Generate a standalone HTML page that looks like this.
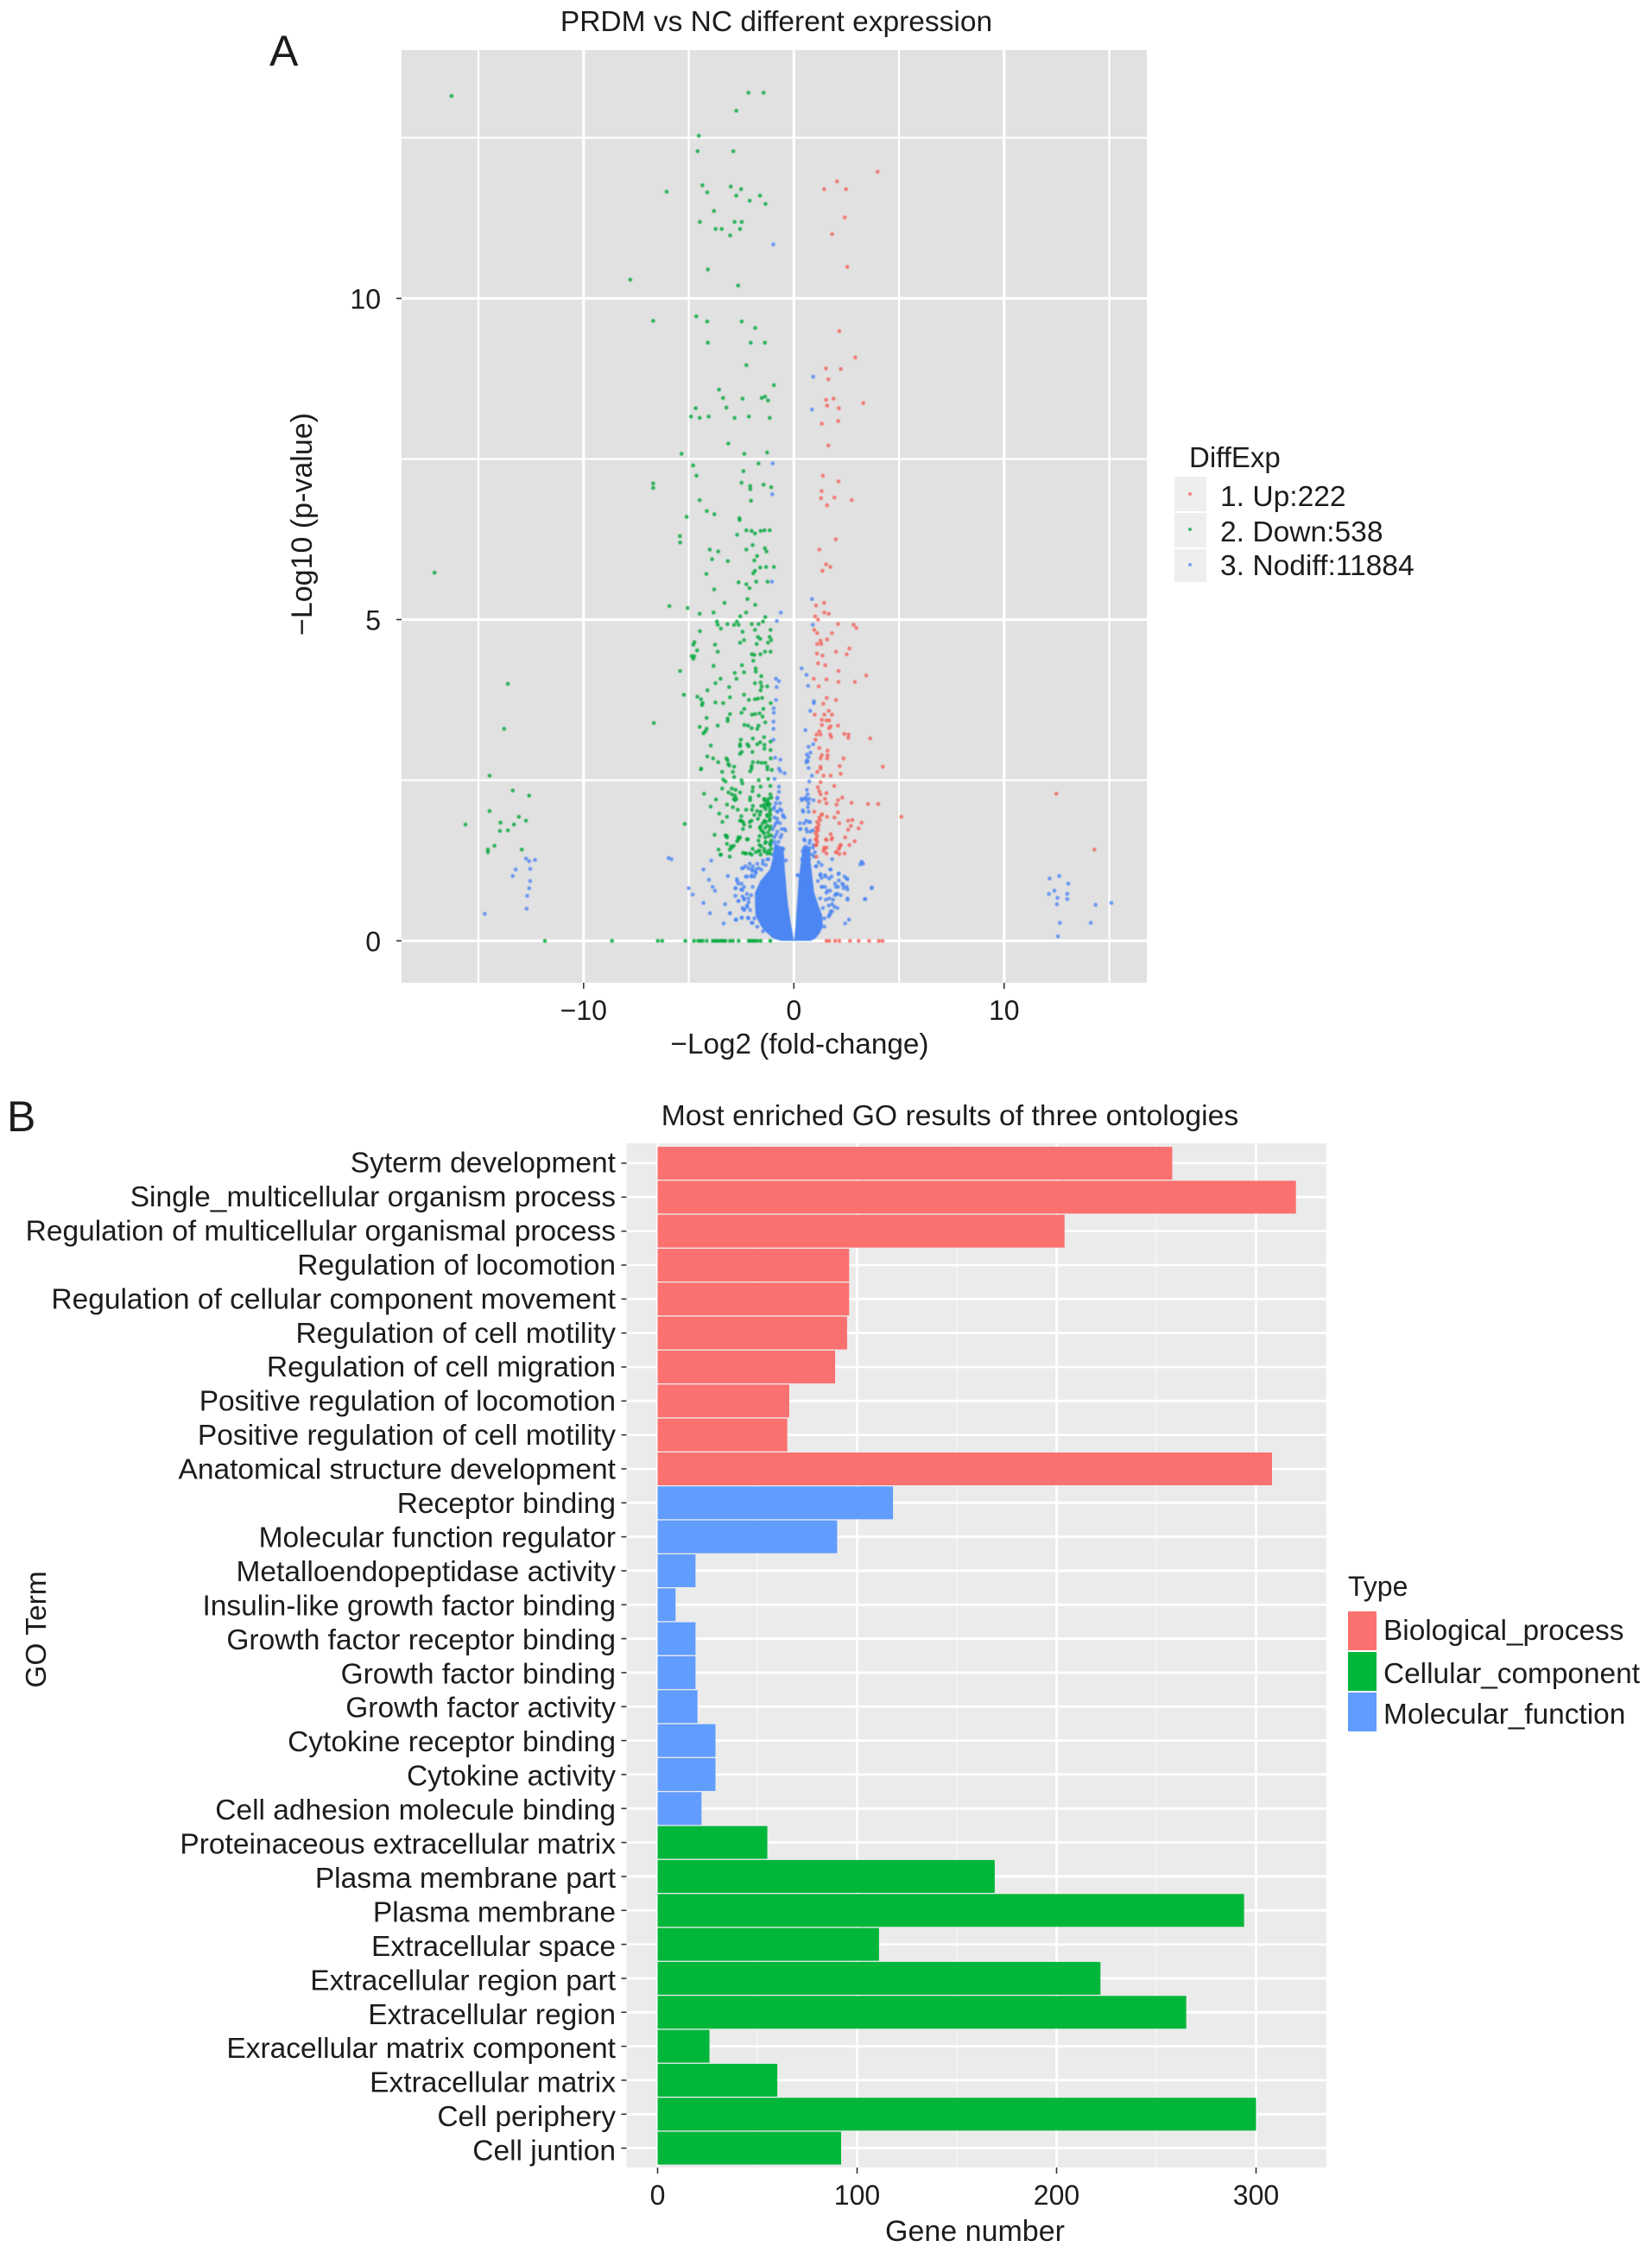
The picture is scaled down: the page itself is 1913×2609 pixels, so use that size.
<!DOCTYPE html>
<html lang="en">
<head>
<meta charset="utf-8">
<title>PRDM vs NC volcano plot and GO enrichment</title>
<style>
html,body{margin:0;padding:0;background:#fff;}
svg{display:block;font-family:"Liberation Sans",Arial,sans-serif;}
text{fill:#1c1c1c;}
#volcano-points{filter:blur(0.5px);}
</style>
</head>
<body>
<svg id="figure" xmlns="http://www.w3.org/2000/svg" width="1913" height="2609" viewBox="0 0 1913 2609">
  <rect x="0" y="0" width="1913" height="2609" fill="#ffffff"/>
  <text x="312" y="76" font-size="50">A</text>
  <text x="899" y="36" font-size="33.5" text-anchor="middle">PRDM vs NC different expression</text>
  <rect x="465" y="58" width="863" height="1080" fill="#e1e1e1"/>
  <g id="volcano-grid"></g>
  <g id="volcano-points"></g>
  <g id="volcano-axes"></g>
  <text transform="translate(361,607) rotate(-90)" font-size="34" text-anchor="middle">−Log10 (p-value)</text>
  <text x="926" y="1220" font-size="33.3" text-anchor="middle">−Log2 (fold-change)</text>

  <g>
    <text x="1377" y="541" font-size="33">DiffExp</text>
    <g>
      <rect x="1360" y="552" width="37" height="40" fill="#eeeeee"/>
      <circle cx="1378" cy="572" r="2" fill="#f3625a" fill-opacity=".75"/>
      <text x="1413" y="586" font-size="33.6">1. Up:222</text>
    </g>
    <g>
      <rect x="1360" y="594" width="37" height="40" fill="#eeeeee"/>
      <circle cx="1378" cy="613" r="2" fill="#00a63a" fill-opacity=".75"/>
      <text x="1413" y="627" font-size="33.6">2. Down:538</text>
    </g>
    <g>
      <rect x="1360" y="636" width="37" height="38" fill="#eeeeee"/>
      <circle cx="1378" cy="654" r="2" fill="#4c86f2" fill-opacity=".75"/>
      <text x="1413" y="666" font-size="33.6">3. Nodiff:11884</text>
    </g>
  </g>

  <text x="8" y="1310" font-size="50">B</text>
  <text x="1100" y="1303" font-size="33.7" text-anchor="middle">Most enriched GO results of three ontologies</text>
  <rect x="725.5" y="1324" width="810.5" height="1186" fill="#ebebeb"/>
  <g id="go-grid"></g>
  <g id="go-bars"></g>
  <g id="go-axes"></g>
  <text transform="translate(53,1887) rotate(-90)" font-size="33.5" text-anchor="middle">GO Term</text>
  <text x="1129" y="2595" font-size="34" text-anchor="middle">Gene number</text>

  <g>
    <text x="1561" y="1848" font-size="32">Type</text>
    <g>
      <rect x="1561" y="1866" width="33" height="45" fill="#fb7170"/>
      <text x="1602" y="1899" font-size="33.4">Biological_process</text>
    </g>
    <g>
      <rect x="1561" y="1913" width="33" height="45" fill="#02b63a"/>
      <text x="1602" y="1949" font-size="33.4">Cellular_component</text>
    </g>
    <g>
      <rect x="1561" y="1960" width="33" height="45" fill="#619cff"/>
      <text x="1602" y="1996" font-size="33.4">Molecular_function</text>
    </g>
  </g>
</svg>

<script>
// ---------- Volcano chart data (log2 fold-change, -log10 p-value) ----------
const volcanoXTicks = [-10, 0, 10];
const volcanoXTickLabels = ["−10", "0", "10"];
const volcanoYTicks = [0, 5, 10];
const volcanoYTickLabels = ["0", "5", "10"];
const volcanoXMinorGrid = [-15, -5, 5, 15];
const volcanoYMinorGrid = [2.5, 7.5, 12.5];

const downPoints = [
[-16.28,13.15],[-2.16,13.2],[-1.44,13.2],[-2.74,12.92],[-4.52,12.53],[-4.58,12.29],[-2.88,12.29],[-6.05,11.66],[-4.35,11.76],[-4.12,11.65],
[-3.0,11.74],[-2.51,11.7],[-2.74,11.6],[-1.61,11.6],[-2.1,11.52],[-1.35,11.47],[-3.8,11.36],[-4.47,11.19],[-2.82,11.19],[-2.48,11.19],
[-3.72,11.08],[-3.43,11.08],[-2.56,11.08],[-3.03,10.98],[-4.09,10.45],[-7.78,10.29],[-2.65,10.2],[-6.69,9.65],[-4.64,9.72],[-4.12,9.64],
[-2.48,9.64],[-1.84,9.54],[-4.09,9.31],[-2.05,9.31],[-1.38,9.31],
[-2.26,8.96],[-0.95,8.65],[-3.56,8.58],[-3.37,8.45],[-2.44,8.44],[-1.53,8.45],[-1.37,8.47],[-1.23,8.41],[-4.67,8.29],[-3.21,8.3],
[-4.89,8.16],[-4.48,8.14],[-4.05,8.16],[-2.82,8.14],[-2.14,8.16],[-1.15,8.14],[-3.12,7.74],[-5.34,7.58],[-2.36,7.58],[-1.27,7.6],
[-4.79,7.4],[-1.68,7.43],[-2.4,7.31],[-4.63,7.24],[-2.49,7.13],[-2.08,7.08],[-2.07,7.03],[-1.44,7.1],[-1.08,7.06],[-4.48,6.86],
[-2.04,6.85],[-4.14,6.69],[-3.78,6.64],[-5.1,6.6],[-2.59,6.58],[-2.58,6.55],[-2.26,6.39],[-2.01,6.38],[-1.85,6.34],[-1.58,6.38],
[-1.4,6.39],[-1.15,6.39],[-2.7,6.32],[-5.42,6.3],[-5.41,6.2],[-1.96,6.16],[-4.0,6.09],[-3.6,6.06],[-2.26,6.09],[-1.38,6.11],
[-1.3,6.06],[-1.75,5.99],[-3.89,5.94],[-3.14,5.91],[-1.88,5.92],[-1.6,5.81],[-1.32,5.82],[-0.95,5.82],[-1.85,5.76],[-1.93,5.72],
[-4.16,5.71],[-2.63,5.58],[-2.26,5.55],[-2.11,5.49],[-1.79,5.59],[-1.25,5.59],[-3.79,5.47],[-17.09,5.73],[-6.69,7.12],[-6.69,7.05],
[-5.92,5.21],[-5.05,5.18],[-3.3,5.26],[-2.21,5.32],[-1.84,5.23],[-4.48,5.09],[-3.82,5.11],[-2.27,5.11],[-2.55,5.05],[-1.36,5.04],
[-1.47,4.97],[-3.66,4.97],[-3.62,4.92],[-3.47,4.86],[-3.16,4.93],[-2.84,4.92],[-2.71,4.97],[-2.63,4.92],[-2.0,4.93],[-1.68,4.93],
[-4.47,4.82],[-2.44,4.81],[-1.85,4.84],[-1.11,4.84],[-1.71,4.73],[-1.6,4.7],[-1.15,4.73],[-1.08,4.68],[-2.37,4.68],[-2.56,4.64],
[-1.77,4.62],[-1.23,4.64],[-4.73,4.65],[-4.78,4.61],[-3.75,4.61],[-4.6,4.52],[-3.62,4.5],[-2.0,4.46],[-1.88,4.45],[-1.59,4.46],
[-1.37,4.5],[-1.11,4.5],[-4.86,4.43],[-4.74,4.43],[-4.78,4.39],[-1.93,4.36],[-3.82,4.28],[-2.47,4.29],[-1.82,4.24],[-1.81,4.19],
[-5.41,4.2],[-2.81,4.17],[-2.37,4.18],[-2.73,4.08],[-3.49,4.08],[-1.55,4.12],[-3.73,4.01],[-1.85,4.01],[-1.58,4.02],[-1.53,3.96],
[-1.27,3.96],[-3.08,3.95],[-1.58,3.9],[-4.11,3.9],[-5.23,3.83],[-2.37,3.83],[-4.59,3.8],[-4.42,3.76],[-3.04,3.79],[-2.14,3.75],
[-1.85,3.76],[-1.71,3.77],[-1.51,3.78],[-4.34,3.7],[-4.37,3.67],[-3.73,3.71],[-3.36,3.7],[-1.1,3.7],[-2.36,3.61],[-1.45,3.61],
[-2.49,3.55],[-1.99,3.52],[-1.84,3.53],[-1.63,3.54],[-1.49,3.49],[-3.04,3.53],[-3.15,3.46],[-3.15,3.42],[-4.15,3.47],[-1.36,3.4],
[-3.62,3.35],[-2.36,3.36],[-2.18,3.35],[-2.01,3.31],[-1.68,3.35],[-1.74,3.3],[-4.48,3.33],[-4.15,3.3],[-4.21,3.26],[-4.3,3.23],
[-1.42,3.17],[-1.95,3.15],[-2.52,3.13],[-2.56,3.06],[-2.56,3.03],[-2.21,3.06],[-2.15,3.03],[-1.74,3.06],[-1.6,3.09],[-1.4,3.05],
[-1.4,2.99],[-1.11,3.1],[-3.95,3.04],[-1.97,2.94],[-2.48,2.94],[-2.56,2.91],[-1.11,2.97],[-4.12,2.87],[-3.84,2.84],[-3.21,2.84],
[-3.15,2.81],[-3.6,2.78],[-3.07,2.73],[-1.95,2.78],[-1.71,2.78],[-1.53,2.77],[-1.36,2.77],[-1.26,2.71],[-1.1,2.84],[-4.41,2.68],
[-2.84,2.71],[-2.01,2.72],[-4.42,2.67],[-3.41,2.63],[-2.9,2.63],[-2.08,2.64],[-2.01,2.68],[-1.26,2.67],[-1.05,2.66],[-3.12,2.75],
[-3.36,2.51],[-3.25,2.48],[-2.84,2.55],[-2.49,2.5],[-2.45,2.45],[-1.67,2.5],[-1.22,2.52],[-3.41,2.37],[-3.11,2.31],[-2.95,2.37],
[-2.77,2.35],[-2.56,2.31],[-1.95,2.39],[-1.97,2.33],[-1.58,2.4],[-1.12,2.41],[-4.27,2.29],[-2.8,2.26],[-2.95,2.28],[-2.08,2.23],
[-1.67,2.26],[-1.12,2.28],[-3.7,2.2],[-2.8,2.19],[-2.74,2.21],[-2.08,2.19],[-1.4,2.19],[-1.26,2.17],[-1.15,2.13],[-1.26,2.12],
[-3.18,2.12],[-2.9,2.08],[-3.96,2.09],[-1.95,2.1],[-1.4,2.08],[-1.12,2.05],[-2.67,2.04],[-2.27,2.04],[-1.99,2.04],[-1.75,2.02],
[-1.58,2.01],[-3.55,1.98],[-2.5,1.94],[-3.18,1.93],[-1.88,1.96],[-1.12,1.96],[-1.26,1.94],[-2.56,1.87],[-2.42,1.85],[-3.4,1.85],
[-2.01,1.87],[-1.71,1.9],[-1.4,1.87],[-1.16,1.87],[-5.19,1.82],[-2.42,1.74],[-2.08,1.78],[-1.58,1.78],[-1.36,1.76],[-1.12,1.78],
[-1.47,1.7],[-1.22,1.69],[-3.77,1.65],[-3.25,1.64],[-3.18,1.61],[-2.56,1.61],[-2.19,1.58],[-1.63,1.63],[-1.36,1.61],[-1.08,1.64],
[-1.08,1.56],[-2.7,1.55],[-3.18,1.51],[-2.86,1.48],[-2.95,1.45],[-1.63,1.49],[-1.36,1.52],[-1.12,1.49],[-1.08,1.43],[-3.58,1.42],
[-3.05,1.42],[-2.42,1.37],[-1.81,1.38],[-1.63,1.4],[-1.4,1.39],[-1.26,1.36],[-2.01,1.34],[-3.49,1.34],[-3.05,1.31],[-1.58,1.34],
[-1.12,1.36],[-2.29,1.36],
[-1.27,2.14],[-1.41,2.21],[-1.21,2.1],[-1.34,2.05],[-1.62,1.96],[-1.27,1.96],[-1.14,1.9],[-1.48,1.83],[-1.27,1.79],[-1.14,1.74],
[-1.55,1.72],[-1.41,1.67],[-1.21,1.63],[-1.68,1.56],[-1.34,1.54],[-1.14,1.52],[-1.55,1.47],[-1.68,1.4],[-1.41,1.43],[-1.21,1.4],
[-1.96,1.43],[-2.1,1.36],[-2.3,1.36],[-2.64,1.58],[-2.23,1.58],[-2.51,1.87],[-2.37,1.81],[-2.1,1.85],[-2.85,2.21],[-2.64,1.61],
[-2.99,1.47],[-3.19,1.63],[-3.47,1.34],[-1.55,2.1],[-1.07,2.23],[-1.21,2.21],[-1.41,2.12],[-1.14,2.01],[-1.62,1.76],[-1.34,1.85],
[-13.6,4.0],[-13.78,3.3],[-14.47,2.57],[-13.37,2.34],[-12.59,2.26],[-14.47,2.02],[-15.62,1.81],[-13.95,1.84],[-13.08,1.93],[-12.74,1.87],
[-13.31,1.81],[-13.98,1.71],[-13.6,1.72],[-14.24,1.48],[-14.55,1.42],[-14.55,1.38],[-12.94,1.42],[-6.66,3.39]
];
const downZeroX = [-11.84,-8.65,-6.47,-6.26,-5.16,-4.75,-4.55,-4.45,-4.34,-4.14,-3.86,-3.75,-3.66,-3.55,-3.45,-3.35,-3.25,-3.04,-2.9,-2.63,-2.15,-2.05,-1.95,-1.85,-1.74,-1.58,-1.12];

const upPoints = [
[3.98,11.97],[2.05,11.82],[1.44,11.7],[2.48,11.7],[2.42,11.26],[1.82,11.0],[2.54,10.49],[2.16,9.49],
[2.92,9.08],[1.53,8.91],[2.23,8.9],[1.64,8.74],[1.53,8.42],[1.89,8.44],[1.58,8.33],[2.14,8.29],[3.3,8.37],[1.33,8.05],[2.11,8.09],
[1.64,7.71],[1.38,7.24],[2.12,7.15],[1.32,7.0],[1.29,6.89],[1.93,6.9],[2.75,6.86],[1.58,6.78],[1.99,6.25],[1.21,6.09],[1.53,5.86],
[1.73,5.82],[1.36,5.76],
[1.44,5.26],[1.05,5.22],[1.45,5.11],[1.66,5.09],[1.01,5.05],[1.15,5.0],[2.1,4.93],[2.84,4.92],[2.97,4.87],[0.97,4.84],
[1.11,4.79],[1.81,4.79],[1.58,4.69],[1.27,4.67],[1.11,4.62],[1.3,4.62],[2.64,4.55],[2.0,4.5],[2.51,4.46],[1.1,4.47],
[1.36,4.44],[1.15,4.32],[1.49,4.29],[2.12,4.2],[3.44,4.13],[0.95,4.08],[1.55,4.07],[2.12,4.03],[2.9,4.03],[1.18,3.96],
[1.56,3.78],[2.0,3.75],[1.4,3.69],[1.66,3.58],[1.45,3.52],[1.81,3.52],[0.99,3.52],[1.33,3.44],[1.55,3.43],[1.68,3.43],
[1.33,3.36],[1.75,3.34],[1.68,3.31],[2.1,3.35],[1.21,3.26],[1.27,3.21],[1.08,3.21],[1.73,3.21],[1.78,3.17],[2.4,3.22],
[2.6,3.21],[2.59,3.16],[3.63,3.15],[1.03,3.13],[1.21,3.0],[1.6,2.96],[1.33,2.89],[1.27,2.84],[1.6,2.89],[1.58,2.84],
[2.36,2.84],[4.23,2.71],[1.27,2.71],[2.18,2.72],
[2.23,2.6],[1.11,2.63],[1.27,2.68],[1.41,2.57],[1.75,2.57],[1.27,2.47],[1.92,2.41],[1.14,2.39],[1.21,2.33],[1.55,2.3],
[1.27,2.28],[2.3,2.23],[2.1,2.19],[1.48,2.21],[1.55,2.14],[1.21,2.17],[2.74,2.15],[2.03,2.12],[3.53,2.13],[4.01,2.13],
[2.1,2.0],[0.97,2.01],[1.34,1.97],[1.58,1.93],[5.11,1.93],[1.93,1.92],[1.21,1.92],[2.58,1.87],[2.78,1.88],[2.16,1.83],
[3.22,1.84],[1.14,1.76],[2.71,1.79],[3.08,1.75],[1.07,1.7],[2.58,1.73],[1.75,1.66],[2.44,1.61],[1.82,1.6],[1.55,1.57],
[1.07,1.58],[2.89,1.55],[2.64,1.49],[2.23,1.49],[1.07,1.49],[2.16,1.45],[1.55,1.45],[1.41,1.4],[2.03,1.38],[2.41,1.36],
[1.55,1.36],[2.16,1.35],[1.07,1.31],
[1.11,1.85],[1.18,1.81],[1.07,1.76],[1.15,1.72],[1.04,1.67],[1.11,1.63],[1.04,1.58],[1.11,1.54],[1.04,1.49],[1.25,1.88],
[1.32,1.96],[1.45,1.45],[1.52,1.58],[1.79,1.58],[2.21,1.49],[2.14,1.43],[2.0,1.38],[1.45,1.43],
[12.48,2.29],[14.29,1.42]
];
const upZeroX = [1.55,1.68,1.96,2.16,2.67,3.08,3.58,4.04,4.22];

const nodiffPoints = [
[-0.98,10.84],[0.92,8.78],[0.86,8.27],[-1.01,7.43],[-1.03,6.95],[-1.04,5.59],
[0.86,5.32],[-0.62,5.11],[-0.81,4.98],[0.9,4.92],[0.37,4.24],[0.6,4.14],[-0.85,4.08],[-0.71,4.04],[-0.82,3.95],[0.68,3.97],
[-0.85,3.75],[0.95,3.73],[0.95,3.7],[-0.96,3.62],[-0.95,3.55],[0.78,3.58],[-0.97,3.41],[-0.97,3.3],[0.55,3.28],[-0.97,3.13],
[0.7,3.02],[0.92,3.06],[0.79,2.93],[0.62,2.9],[0.7,2.86],[0.62,2.81],[0.59,2.78],[-0.89,2.85],[-0.64,2.82],[0.7,2.69],[-0.71,2.68],
[-5.96,1.29],[-5.82,1.27],[-3.93,1.25],[-4.3,1.11],[-2.42,1.13],[-3.14,1.01],[-4.04,0.95],[-5.0,0.82],[-3.86,0.84],[-3.75,0.78],
[-4.81,0.72],[-4.3,0.59],[-3.27,0.57],[-3.99,0.43],[-3.04,0.43],[-3.34,0.27],[-2.77,0.33],[-2.48,0.36],[-2.18,0.36],[-2.01,0.28],
[-2.7,0.93],[-2.77,0.82],[-2.49,0.89],[-2.45,0.79],[-2.63,0.62],[-2.36,0.66],[-2.15,0.6],[-2.36,0.49],[-1.95,1.16],[-2.15,1.13],
[-1.81,1.05],[-2.29,1.0],
[3.22,1.23],[3.29,1.2],[3.7,0.82],[3.4,0.65],[2.62,0.33],[2.44,0.27],[2.51,0.97],[2.12,1.04],[1.75,1.11],[1.82,1.27],
[2.51,0.84],[2.55,0.66],[2.1,0.84],[2.3,0.89],[1.96,0.71],[1.68,0.97],[1.48,1.02],[1.82,0.46],[1.68,0.4],
[-0.71,2.4],[-0.71,2.32],[-0.78,2.23],[-0.95,2.05],[-0.78,2.01],[-0.51,1.94],[-0.92,1.92],[-0.78,1.85],[-0.92,1.79],[-0.58,1.74],
[-0.4,1.72],[-0.85,1.65],[-0.64,1.61],[-0.92,1.54],[-0.78,1.47],[-0.51,1.43],[-0.85,1.38],[-0.64,1.31],[-0.64,2.64],[-0.92,2.52],[-0.44,2.61],
[0.66,2.79],[0.86,2.57],[0.73,2.48],[0.62,2.35],[0.66,2.28],[0.38,2.19],[0.52,2.21],[0.73,2.21],[0.93,2.19],[0.7,2.14],
[0.66,2.08],[0.45,2.01],[0.59,1.87],[0.73,1.85],[0.32,1.74],[0.59,1.74],[0.79,1.7],[0.52,1.56],[0.73,1.52],[0.93,1.49],
[0.45,1.38],[0.66,1.36],[0.86,1.34],[0.38,1.27],[0.73,1.27],[1.0,1.38],
[1.34,0.84],[1.55,0.75],[1.68,0.66],[1.82,0.57],[1.75,0.46],[1.66,0.38],[1.14,0.93],[1.27,1.04],[1.07,1.16],[1.48,0.84],[1.96,0.89],[2.23,0.71],[2.37,0.82],
[-2.01,1.11],[-1.74,1.2],[-1.47,1.25],[-1.26,1.27],[-1.81,1.11],[-2.01,1.02],[-2.22,0.53],[-2.08,0.48],[-1.88,0.35],[-1.74,0.22],[-1.47,0.15],
[0.18,1.02],
[-2.47,1.13],[-2.3,1.16],[-2.1,1.2],[-1.96,1.09],[-2.23,1.0],[-2.03,1.0],[-1.89,1.0],[-2.71,0.96],[-2.64,0.89],[-2.78,0.82],
[-2.51,0.8],[-2.37,0.84],[-2.23,0.73],[-2.78,0.7],[-2.44,0.69],[-2.64,0.62],[-2.37,0.64],[-2.16,0.66],[-2.03,0.71],[-1.96,0.84],
[-2.44,0.51],[-2.23,0.55],[-2.37,0.48],[-2.16,0.35],[-1.96,0.28],[-2.74,0.33],[-2.48,0.36],[-3.04,0.43],
[-0.79,2.21],[-0.66,2.14],[-0.52,1.96],[-0.45,1.92],[-0.79,2.01],[-0.86,1.83],[-0.66,1.83],[-0.45,1.74],[-0.79,1.7],[-0.93,1.61],
[-0.73,1.54],[-0.52,1.43],[-0.79,1.43],[-0.59,1.31],[-0.38,1.25],[-1.0,1.34],[-1.21,1.27],[-1.48,1.2],[-1.68,1.13],[-1.82,1.07],
[-1.55,1.11],[-1.34,1.18],[-0.66,2.05],[-0.93,2.08],[-0.86,1.49],[-0.59,1.65],[-1.0,1.74],[-0.79,1.9],[-0.59,2.03],[-0.86,2.14],[-1.07,1.52],
[0.36,2.21],[0.56,2.23],[0.63,2.19],[0.42,2.03],[0.7,2.01],[0.29,1.83],[0.49,1.83],[0.77,1.85],[0.29,1.74],[0.63,1.7],
[0.9,1.72],[0.49,1.58],[0.77,1.56],[0.56,1.47],[0.9,1.45],[0.42,1.4],[0.7,1.36],[0.97,1.31],[1.18,1.22],[1.32,1.18],
[1.04,1.16],[0.19,1.02],[1.25,1.02],[1.32,0.98],[1.52,1.0],[1.73,1.11],[1.79,1.0],[2.14,1.05],[2.41,1.0],[2.55,0.96],
[2.14,0.94],[1.73,0.78],[1.59,0.78],[2.0,0.84],[2.34,0.87],[2.0,0.73],[2.07,0.73],[2.55,0.8],[1.52,0.64],[1.86,0.64],
[1.66,0.55],[1.93,0.53],[2.07,0.51],[1.73,0.42],[1.45,0.35],[2.55,0.64],[3.71,0.83],[3.37,0.65],[3.23,1.22],[3.16,1.19],
[1.45,0.22],[1.38,0.51],[1.25,0.66],[1.32,0.84],
[-12.74,1.28],[-12.59,1.24],[-12.31,1.26],[-12.54,1.12],[-13.23,1.11],[-13.37,1.01],[-12.54,0.93],[-12.59,0.82],[-12.68,0.7],[-12.71,0.5],[-14.7,0.42],
[12.16,0.97],[12.62,1.01],[13.05,0.89],[12.13,0.73],[12.39,0.78],[12.54,0.67],[13.0,0.73],[13.0,0.65],[12.51,0.57],[12.65,0.28],[12.56,0.07],[14.12,0.28],[14.35,0.56],[15.1,0.59]
];

// Outline of the solid blue mass near the origin, read level by level
const cloudY = [0,0.04,0.13,0.22,0.39,0.57,0.75,0.93,1.11,1.29,1.47];
const cloudLeftOuter = [-0.62,-1.0,-1.3,-1.55,-1.82,-1.85,-1.85,-1.6,-1.14,-1.0,-0.95];
const cloudLeftInner = [0,-0.02,-0.06,-0.12,-0.2,-0.28,-0.34,-0.38,-0.43,-0.46,-0.5];
const cloudRightInner = [0,0.02,0.05,0.08,0.11,0.15,0.19,0.22,0.29,0.36,0.42];
const cloudRightOuter = [0.8,1.04,1.25,1.38,1.35,1.15,0.97,0.9,0.84,0.77,0.8];

// ---------- GO bar chart data ----------
const goTerms = ["Syterm development","Single_multicellular organism process","Regulation of multicellular organismal process","Regulation of locomotion","Regulation of cellular component movement","Regulation of cell motility","Regulation of cell migration","Positive regulation of locomotion","Positive regulation of cell motility","Anatomical structure development","Receptor binding","Molecular function regulator","Metalloendopeptidase activity","Insulin-like growth factor binding","Growth factor receptor binding","Growth factor binding","Growth factor activity","Cytokine receptor binding","Cytokine activity","Cell adhesion molecule binding","Proteinaceous extracellular matrix","Plasma membrane part","Plasma membrane","Extracellular space","Extracellular region part","Extracellular region","Exracellular matrix component","Extracellular matrix","Cell periphery","Cell juntion"];
const goCounts = [258,320,204,96,96,95,89,66,65,308,118,90,19,9,19,19,20,29,29,22,55,169,294,111,222,265,26,60,300,92];
const goTypes = ["BP","BP","BP","BP","BP","BP","BP","BP","BP","BP","MF","MF","MF","MF","MF","MF","MF","MF","MF","MF","CC","CC","CC","CC","CC","CC","CC","CC","CC","CC"];
const goXTicks = [0,100,200,300];
const goXMinorGrid = [50,150,250];

const svgNS = "http://www.w3.org/2000/svg";
const make = (parent, tag, attrs, txt) => {
  const el = document.createElementNS(svgNS, tag);
  for (const k in attrs) el.setAttribute(k, attrs[k]);
  if (txt !== undefined) el.textContent = txt;
  parent.appendChild(el);
  return el;
};

// Axis functions
const vx = v => 919.3 + v * 24.35;
const vy = v => 1089.5 - v * 74.4;
const gx = v => 761.5 + v * 2.31;
const gy = i => 1347 + i * 39.33;

const P_LEFT = 465, P_RIGHT = 1328, P_TOP = 58, P_BOTTOM = 1138;
const G_LEFT = 725.5, G_RIGHT = 1536, G_TOP = 1324, G_BOTTOM = 2510;

// Volcano grid
const vGrid = document.getElementById('volcano-grid');
volcanoXMinorGrid.forEach(v => {
  const l = make(vGrid, 'line', {x1: vx(v), x2: vx(v), y1: P_TOP, y2: P_BOTTOM, stroke: '#fff', 'stroke-width': 2.2});
  
  
});
volcanoYMinorGrid.forEach(v => {
  const l = make(vGrid, 'line', {x1: P_LEFT, x2: P_RIGHT, y1: vy(v), y2: vy(v), stroke: '#fff', 'stroke-width': 2.2});
  
  
});
volcanoXTicks.forEach(v => {
  const l = make(vGrid, 'line', {x1: vx(v), x2: vx(v), y1: P_TOP, y2: P_BOTTOM, stroke: '#fff', 'stroke-width': 3.2});
  
  
});
volcanoYTicks.forEach(v => {
  const l = make(vGrid, 'line', {x1: P_LEFT, x2: P_RIGHT, y1: vy(v), y2: vy(v), stroke: '#fff', 'stroke-width': 3.2});
  
  
});

// Volcano points
const vPts = document.getElementById('volcano-points');
const outerPts = cloudY.map((y, i) => vx(cloudLeftOuter[i]) + ',' + vy(y));
const innerPts = cloudY.map((y, i) => vx(cloudLeftInner[i]) + ',' + vy(y)).reverse();
const cloudL = make(vPts, 'polygon', {points: outerPts.concat(innerPts).join(' '), fill: '#4c86f2'});


const outerPtsR = cloudY.map((y, i) => vx(cloudRightOuter[i]) + ',' + vy(y));
const innerPtsR = cloudY.map((y, i) => vx(cloudRightInner[i]) + ',' + vy(y)).reverse();
const cloudR = make(vPts, 'polygon', {points: outerPtsR.concat(innerPtsR).join(' '), fill: '#4c86f2'});



nodiffPoints.forEach(p => {
  const d = make(vPts, 'circle', {cx: vx(p[0]), cy: vy(p[1]), r: 2.3, fill: '#4c86f2', 'fill-opacity': .8});
  
  
});
downPoints.forEach(p => {
  const d = make(vPts, 'circle', {cx: vx(p[0]), cy: vy(p[1]), r: 2.3, fill: '#00a63a', 'fill-opacity': .8});
  
  
});
downZeroX.forEach(x => {
  const d = make(vPts, 'circle', {cx: vx(x), cy: vy(0), r: 2.3, fill: '#00a63a', 'fill-opacity': .85});
  
  
});
upPoints.forEach(p => {
  const d = make(vPts, 'circle', {cx: vx(p[0]), cy: vy(p[1]), r: 2.3, fill: '#f3625a', 'fill-opacity': .8});
  
  
});
upZeroX.forEach(x => {
  const d = make(vPts, 'circle', {cx: vx(x), cy: vy(0), r: 2.3, fill: '#f3625a', 'fill-opacity': .85});
  
  
});

// Volcano axes
const vAxes = document.getElementById('volcano-axes');
volcanoXTicks.forEach((v, i) => {
  const t = make(vAxes, 'line', {x1: vx(v), x2: vx(v), y1: P_BOTTOM, y2: P_BOTTOM + 7, stroke: '#333', 'stroke-width': 1.6});
  
  
  const lab = make(vAxes, 'text', {x: vx(v), y: 1181, 'font-size': 32, 'text-anchor': 'middle'}, volcanoXTickLabels[i]);
  
  
});
volcanoYTicks.forEach((v, i) => {
  const t = make(vAxes, 'line', {x1: P_LEFT - 6, x2: P_LEFT, y1: vy(v), y2: vy(v), stroke: '#333', 'stroke-width': 1.6});
  
  
  const lab = make(vAxes, 'text', {x: 441, y: vy(v) + 12, 'font-size': 32, 'text-anchor': 'end'}, volcanoYTickLabels[i]);
  
  
});

// GO grid
const gGrid = document.getElementById('go-grid');
goXMinorGrid.forEach(v => {
  const l = make(gGrid, 'line', {x1: gx(v), x2: gx(v), y1: G_TOP, y2: G_BOTTOM, stroke: '#f4f4f4', 'stroke-width': 1.5});
  
  
});
goXTicks.forEach(v => {
  const l = make(gGrid, 'line', {x1: gx(v), x2: gx(v), y1: G_TOP, y2: G_BOTTOM, stroke: '#fff', 'stroke-width': 2.6});
  
  
});
goTerms.forEach((term, i) => {
  const l = make(gGrid, 'line', {x1: G_LEFT, x2: G_RIGHT, y1: gy(i), y2: gy(i), stroke: '#fff', 'stroke-width': 2.8});
  
  
});

// GO bars
const typeColors = {BP: '#fb7170', CC: '#02b63a', MF: '#619cff'};
const gBars = document.getElementById('go-bars');
goCounts.forEach((c, i) => {
  const r = make(gBars, 'rect', {x: gx(0), y: gy(i) - 19, width: gx(c) - gx(0), height: 38, fill: typeColors[goTypes[i]]});
  
  
});

// GO axes
const gAxes = document.getElementById('go-axes');
goTerms.forEach((term, i) => {
  const t = make(gAxes, 'line', {x1: G_LEFT - 6, x2: G_LEFT, y1: gy(i), y2: gy(i), stroke: '#333', 'stroke-width': 1.6});
  
  
  const lab = make(gAxes, 'text', {x: 713, y: gy(i) + 10.5 + i * 0.12, 'font-size': 33.5, 'text-anchor': 'end'}, term);
  
  
});
goXTicks.forEach(v => {
  const t = make(gAxes, 'line', {x1: gx(v), x2: gx(v), y1: G_BOTTOM, y2: G_BOTTOM + 7, stroke: '#333', 'stroke-width': 1.6});
  
  
  const lab = make(gAxes, 'text', {x: gx(v), y: 2553, 'font-size': 32, 'text-anchor': 'middle'}, String(v));
  
  
});
</script>
</body>
</html>
